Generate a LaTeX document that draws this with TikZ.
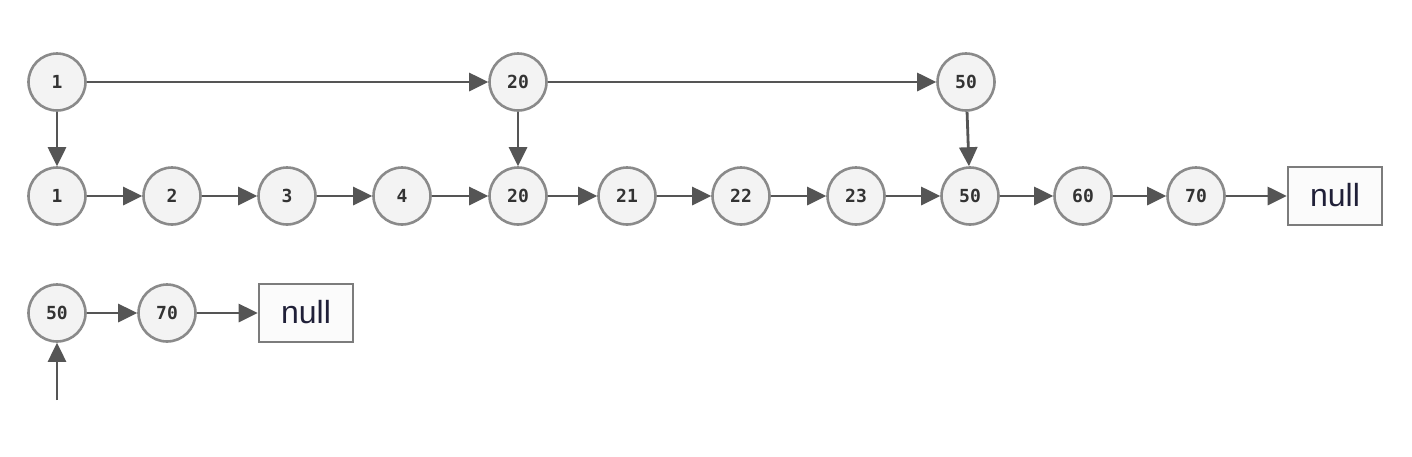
\documentclass[tikz,border=0pt]{standalone}
\usepackage{fontspec}
\setmainfont{Liberation Sans}
\newfontfamily\numfont{DejaVu Sans Mono}
\usetikzlibrary{arrows.meta}
\definecolor{ringc}{HTML}{8A8A8A}
\definecolor{fillc}{HTML}{F3F3F3}
\definecolor{arrc}{HTML}{555555}
\definecolor{txtc}{HTML}{333333}
\definecolor{nullc}{HTML}{202038}
\tikzset{
  lnode/.style={circle, draw=ringc, line width=2.6pt, fill=fillc, minimum size=57pt, inner sep=0pt, font=\numfont\bfseries\fontsize{18}{20}\selectfont, text=txtc},
  nullbox/.style={rectangle, draw=ringc!90!black, line width=2.6pt, fill=white!97!gray, minimum width=94pt, minimum height=58pt, inner sep=0pt, font=\fontsize{32}{36}\selectfont, text=nullc},
  link/.style={draw=arrc, line width=2.8pt, -{Triangle[length=19pt,width=18pt]}}
}
\begin{document}
\begin{tikzpicture}[x=1pt,y=-1pt]
\useasboundingbox (0,0) rectangle (1412,456);
% top level
\node[lnode] (t1) at (57,82) {1};
\node[lnode] (t20) at (518,82) {20};
\node[lnode] (t50) at (966,82) {50};
% main list
\node[lnode] (m1) at (57,196) {1};
\node[lnode] (m2) at (172,196) {2};
\node[lnode] (m3) at (287,196) {3};
\node[lnode] (m4) at (402,196) {4};
\node[lnode] (m20) at (518,196) {20};
\node[lnode] (m21) at (627,196) {21};
\node[lnode] (m22) at (741,196) {22};
\node[lnode] (m23) at (856,196) {23};
\node[lnode] (m50) at (970,196) {50};
\node[lnode] (m60) at (1083,196) {60};
\node[lnode] (m70) at (1196,196) {70};
\node[nullbox] (mnull) at (1335,196) {\raisebox{2pt}{null}};
% bottom list
\node[lnode] (b50) at (57,313) {50};
\node[lnode] (b70) at (167,313) {70};
\node[nullbox] (bnull) at (306,313) {\raisebox{2pt}{null}};
\coordinate (bin) at (57,400);
% connectors
\draw[link] (t1) -- (t20);
\draw[link] (t20) -- (t50);
\draw[link] (t1) -- (m1);
\draw[link] (t20) -- (m20);
\draw[link] (t50) -- (m50);
\draw[link] (m1) -- (m2);
\draw[link] (m2) -- (m3);
\draw[link] (m3) -- (m4);
\draw[link] (m4) -- (m20);
\draw[link] (m20) -- (m21);
\draw[link] (m21) -- (m22);
\draw[link] (m22) -- (m23);
\draw[link] (m23) -- (m50);
\draw[link] (m50) -- (m60);
\draw[link] (m60) -- (m70);
\draw[link] (m70) -- (mnull);
\draw[link] (b50) -- (b70);
\draw[link] (b70) -- (bnull);
\draw[link] (bin) -- (b50);
\end{tikzpicture}
\end{document}
